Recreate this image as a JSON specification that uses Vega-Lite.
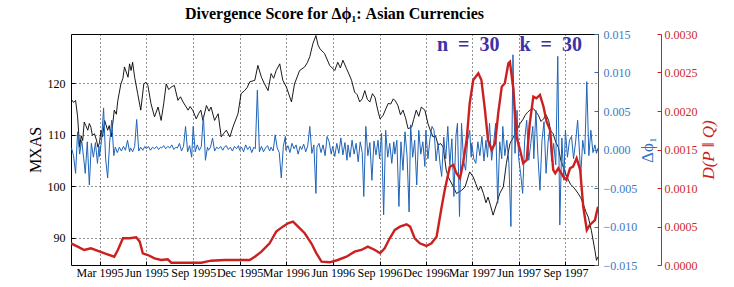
{
"$schema": "https://vega.github.io/schema/vega-lite/v6.json",
"width": 527, "height": 231,
"autosize": {"type": "none"},
"padding": {"left": 71, "top": 34, "right": 136, "bottom": 22},
"background": "#ffffff",
"config": {
  "font": "Liberation Serif",
  "view": {"stroke": "#000", "strokeWidth": 1},
  "axis": {"labelFont": "Liberation Serif", "titleFont": "Liberation Serif", "titleFontWeight": "normal"}
},
"title": {"text": "Divergence Score for Δϕ₁: Asian Currencies", "font": "Liberation Serif", "fontSize": 16, "fontWeight": "bold", "anchor": "middle", "offset": 6, "color": "#000"},
"encoding": {
  "x": {"field": "d", "type": "temporal",
    "scale": {"type": "utc", "domain": [{"year": 1995, "month": 1, "date": 4, "utc": true}, {"year": 1997, "month": 11, "date": 4, "utc": true}]},
    "axis": {"title": null, "format": "%b %Y",
      "values": [
        {"year": 1995, "month": 3, "date": 1, "utc": true}, {"year": 1995, "month": 6, "date": 1, "utc": true},
        {"year": 1995, "month": 9, "date": 1, "utc": true}, {"year": 1995, "month": 12, "date": 1, "utc": true},
        {"year": 1996, "month": 3, "date": 1, "utc": true}, {"year": 1996, "month": 6, "date": 1, "utc": true},
        {"year": 1996, "month": 9, "date": 1, "utc": true}, {"year": 1996, "month": 12, "date": 1, "utc": true},
        {"year": 1997, "month": 3, "date": 1, "utc": true}, {"year": 1997, "month": 6, "date": 1, "utc": true},
        {"year": 1997, "month": 9, "date": 1, "utc": true}],
      "labelOverlap": false, "labelFlush": false, "labelBound": false,
      "grid": true, "gridDash": [1, 3], "gridColor": "#000", "gridOpacity": 0.85,
      "tickSize": -4, "tickColor": "#000", "labelPadding": 6, "domain": false,
      "labelFontSize": 12, "labelColor": "#000"}
  }
},
"layer": [
  {
    "data": {"values": [
      {"d":"1995-01-04","m":117.0},{"d":"1995-01-09","m":116.3},{"d":"1995-01-13","m":116.7},{"d":"1995-01-17","m":113.5},
      {"d":"1995-01-21","m":107.6},{"d":"1995-01-24","m":109.8},{"d":"1995-01-27","m":108.9},{"d":"1995-01-30","m":112.5},
      {"d":"1995-02-02","m":111.8},{"d":"1995-02-06","m":110.9},{"d":"1995-02-09","m":112.2},{"d":"1995-02-12","m":111.5},
      {"d":"1995-02-15","m":109.9},{"d":"1995-02-19","m":110.2},{"d":"1995-02-23","m":109.0},{"d":"1995-02-26","m":107.6},
      {"d":"1995-03-01","m":108.5},{"d":"1995-03-04","m":110.9},{"d":"1995-03-07","m":109.6},{"d":"1995-03-11","m":112.8},
      {"d":"1995-03-17","m":110.9},{"d":"1995-03-20","m":111.8},{"d":"1995-03-24","m":109.6},{"d":"1995-03-30","m":114.8},
      {"d":"1995-04-03","m":114.0},{"d":"1995-04-06","m":116.7},{"d":"1995-04-12","m":119.9},{"d":"1995-04-16","m":121.0},
      {"d":"1995-04-19","m":123.2},{"d":"1995-04-26","m":121.2},{"d":"1995-04-29","m":123.8},{"d":"1995-05-02","m":122.5},
      {"d":"1995-05-05","m":124.1},{"d":"1995-05-09","m":121.2},{"d":"1995-05-15","m":118.0},{"d":"1995-05-21","m":114.8},
      {"d":"1995-05-27","m":119.9},{"d":"1995-05-31","m":120.2},{"d":"1995-06-04","m":119.6},{"d":"1995-06-10","m":116.1},
      {"d":"1995-06-17","m":113.5},{"d":"1995-06-24","m":115.4},{"d":"1995-06-30","m":112.8},{"d":"1995-07-05","m":116.0},
      {"d":"1995-07-10","m":119.9},{"d":"1995-07-15","m":118.8},{"d":"1995-07-20","m":119.3},{"d":"1995-07-26","m":119.6},
      {"d":"1995-08-02","m":116.7},{"d":"1995-08-07","m":117.4},{"d":"1995-08-12","m":116.4},{"d":"1995-08-17","m":115.6},
      {"d":"1995-08-22","m":114.8},{"d":"1995-08-26","m":115.5},{"d":"1995-08-31","m":114.8},{"d":"1995-09-07","m":113.1},
      {"d":"1995-09-12","m":114.2},{"d":"1995-09-16","m":114.8},{"d":"1995-09-20","m":112.8},{"d":"1995-09-27","m":115.7},
      {"d":"1995-10-02","m":114.6},{"d":"1995-10-06","m":115.4},{"d":"1995-10-13","m":112.8},{"d":"1995-10-20","m":114.1},
      {"d":"1995-10-26","m":109.6},{"d":"1995-11-01","m":110.4},{"d":"1995-11-05","m":110.9},{"d":"1995-11-12","m":109.6},
      {"d":"1995-11-18","m":111.5},{"d":"1995-11-28","m":114.1},{"d":"1995-12-04","m":118.0},{"d":"1995-12-11","m":118.6},
      {"d":"1995-12-16","m":119.2},{"d":"1995-12-21","m":120.3},{"d":"1995-12-31","m":120.6},{"d":"1996-01-06","m":123.5},
      {"d":"1996-01-13","m":121.2},{"d":"1996-01-19","m":119.9},{"d":"1996-01-26","m":118.6},{"d":"1996-02-01","m":121.9},
      {"d":"1996-02-06","m":121.0},{"d":"1996-02-11","m":122.5},{"d":"1996-02-18","m":123.8},{"d":"1996-02-24","m":120.6},
      {"d":"1996-03-02","m":119.3},{"d":"1996-03-12","m":116.4},{"d":"1996-03-18","m":119.9},{"d":"1996-03-28","m":122.5},
      {"d":"1996-04-07","m":123.2},{"d":"1996-04-12","m":124.0},{"d":"1996-04-17","m":125.2},{"d":"1996-04-23","m":127.7},
      {"d":"1996-04-29","m":129.3},{"d":"1996-05-03","m":127.5},{"d":"1996-05-07","m":126.7},{"d":"1996-05-16","m":125.8},
      {"d":"1996-05-26","m":123.5},{"d":"1996-06-05","m":122.5},{"d":"1996-06-11","m":124.1},{"d":"1996-06-16","m":123.0},
      {"d":"1996-06-21","m":124.5},{"d":"1996-06-28","m":122.9},{"d":"1996-07-03","m":121.8},{"d":"1996-07-08","m":120.6},
      {"d":"1996-07-14","m":118.3},{"d":"1996-07-19","m":117.8},{"d":"1996-07-24","m":116.4},{"d":"1996-07-29","m":117.0},
      {"d":"1996-08-03","m":118.6},{"d":"1996-08-08","m":116.9},{"d":"1996-08-13","m":116.4},{"d":"1996-08-18","m":118.0},
      {"d":"1996-08-23","m":117.3},{"d":"1996-08-28","m":115.0},{"d":"1996-09-02","m":113.1},{"d":"1996-09-08","m":113.8},
      {"d":"1996-09-13","m":115.0},{"d":"1996-09-18","m":116.1},{"d":"1996-09-23","m":116.0},{"d":"1996-09-28","m":117.0},
      {"d":"1996-10-02","m":116.6},{"d":"1996-10-07","m":115.7},{"d":"1996-10-12","m":113.9},{"d":"1996-10-17","m":114.8},
      {"d":"1996-10-22","m":113.3},{"d":"1996-10-27","m":111.2},{"d":"1996-11-03","m":111.5},{"d":"1996-11-07","m":113.0},
      {"d":"1996-11-12","m":114.8},{"d":"1996-11-17","m":113.6},{"d":"1996-11-22","m":115.4},{"d":"1996-11-29","m":114.8},
      {"d":"1996-12-05","m":112.2},{"d":"1996-12-10","m":110.8},{"d":"1996-12-15","m":109.6},{"d":"1996-12-20","m":109.8},
      {"d":"1996-12-25","m":108.0},{"d":"1996-12-30","m":108.3},{"d":"1997-01-04","m":107.6},{"d":"1997-01-10","m":103.1},
      {"d":"1997-01-14","m":101.8},{"d":"1997-01-17","m":101.2},{"d":"1997-01-24","m":99.9},{"d":"1997-01-30","m":98.6},
      {"d":"1997-02-09","m":99.2},{"d":"1997-02-16","m":99.9},{"d":"1997-02-25","m":102.8},{"d":"1997-03-04","m":101.8},
      {"d":"1997-03-09","m":100.5},{"d":"1997-03-14","m":99.2},{"d":"1997-03-19","m":100.0},{"d":"1997-03-24","m":98.6},
      {"d":"1997-03-29","m":96.8},{"d":"1997-04-02","m":97.9},{"d":"1997-04-07","m":96.2},{"d":"1997-04-12","m":94.4},
      {"d":"1997-04-19","m":96.6},{"d":"1997-04-25","m":98.6},{"d":"1997-05-02","m":99.9},{"d":"1997-05-08","m":104.4},
      {"d":"1997-05-15","m":108.3},{"d":"1997-05-20","m":109.2},{"d":"1997-05-25","m":110.2},{"d":"1997-06-04","m":112.2},
      {"d":"1997-06-09","m":112.9},{"d":"1997-06-14","m":113.8},{"d":"1997-06-18","m":114.3},{"d":"1997-06-23","m":114.8},
      {"d":"1997-06-30","m":115.1},{"d":"1997-07-05","m":114.5},{"d":"1997-07-10","m":113.8},{"d":"1997-07-15","m":112.6},
      {"d":"1997-07-20","m":113.1},{"d":"1997-07-25","m":113.9},{"d":"1997-07-30","m":112.8},{"d":"1997-08-03","m":110.8},
      {"d":"1997-08-08","m":110.2},{"d":"1997-08-13","m":108.6},{"d":"1997-08-18","m":107.6},{"d":"1997-08-23","m":105.0},
      {"d":"1997-08-28","m":103.7},{"d":"1997-09-02","m":102.3},{"d":"1997-09-07","m":101.2},{"d":"1997-09-11","m":100.4},
      {"d":"1997-09-16","m":99.9},{"d":"1997-09-21","m":99.3},{"d":"1997-09-26","m":98.6},{"d":"1997-10-01","m":97.8},
      {"d":"1997-10-06","m":96.6},{"d":"1997-10-11","m":95.1},{"d":"1997-10-16","m":94.0},{"d":"1997-10-22","m":91.4},
      {"d":"1997-10-29","m":87.5},{"d":"1997-11-01","m":85.6},{"d":"1997-11-04","m":86.3}
    ]},
    "mark": {"type": "line", "color": "#000000", "strokeWidth": 0.9, "clip": true},
    "encoding": {
      "y": {"field": "m", "type": "quantitative",
        "scale": {"domain": [84.7, 129.6], "nice": false, "zero": false},
        "axis": {"orient": "left", "title": "MXAS", "values": [90, 100, 110, 120],
          "grid": true, "gridDash": [1, 3], "gridColor": "#000", "gridOpacity": 0.85,
          "tickSize": -4, "tickColor": "#000", "labelPadding": 10, "domain": false,
          "labelFontSize": 12, "labelColor": "#000", "titleFontSize": 16, "titleColor": "#000", "titlePadding": 4}}
    }
  },
  {
    "data": {"values": [
      {"d":"1995-01-05","b":0.0002},{"d":"1995-01-09","b":-0.0008},{"d":"1995-01-13","b":-0.0031},{"d":"1995-01-17","b":0.0023},
      {"d":"1995-01-21","b":-0.0006},{"d":"1995-01-25","b":0.0012},{"d":"1995-01-29","b":-0.0012},{"d":"1995-02-01","b":-0.0031},
      {"d":"1995-02-05","b":0.0010},{"d":"1995-02-09","b":-0.0046},{"d":"1995-02-13","b":0.0008},{"d":"1995-02-17","b":-0.0010},
      {"d":"1995-02-21","b":0.0009},{"d":"1995-02-25","b":-0.0018},{"d":"1995-02-28","b":0.0004},{"d":"1995-03-01","b":-0.0009},
      {"d":"1995-03-05","b":0.0012},{"d":"1995-03-09","b":0.0054},{"d":"1995-03-13","b":-0.0012},{"d":"1995-03-17","b":-0.0037},
      {"d":"1995-03-21","b":0.0010},{"d":"1995-03-25","b":0.0038},{"d":"1995-03-29","b":-0.0008},{"d":"1995-04-01","b":0.0003},
      {"d":"1995-04-05","b":-0.0004},{"d":"1995-04-09","b":0.0003},{"d":"1995-04-13","b":-0.0002},{"d":"1995-04-17","b":0.0004},
      {"d":"1995-04-21","b":-0.0001},{"d":"1995-04-25","b":0.0012},{"d":"1995-04-29","b":-0.0003},{"d":"1995-05-01","b":0.0002},
      {"d":"1995-05-05","b":-0.0003},{"d":"1995-05-09","b":0.0004},{"d":"1995-05-13","b":0.0039},{"d":"1995-05-17","b":-0.0002},
      {"d":"1995-05-21","b":0.0003},{"d":"1995-05-25","b":-0.0001},{"d":"1995-05-29","b":0.0004},{"d":"1995-06-01","b":0.0001},
      {"d":"1995-06-05","b":0.0004},{"d":"1995-06-09","b":-0.0001},{"d":"1995-06-13","b":0.0003},{"d":"1995-06-17","b":0.0001},
      {"d":"1995-06-21","b":0.0004},{"d":"1995-06-25","b":0.0000},{"d":"1995-06-29","b":0.0003},{"d":"1995-07-01","b":0.0002},
      {"d":"1995-07-05","b":0.0005},{"d":"1995-07-09","b":0.0001},{"d":"1995-07-13","b":0.0004},{"d":"1995-07-17","b":0.0002},
      {"d":"1995-07-21","b":0.0006},{"d":"1995-07-25","b":0.0000},{"d":"1995-07-29","b":0.0003},{"d":"1995-08-01","b":0.0002},
      {"d":"1995-08-05","b":0.0008},{"d":"1995-08-09","b":-0.0002},{"d":"1995-08-13","b":0.0004},{"d":"1995-08-17","b":0.0030},
      {"d":"1995-08-21","b":-0.0003},{"d":"1995-08-25","b":0.0005},{"d":"1995-08-29","b":-0.0010},{"d":"1995-09-01","b":0.0030},
      {"d":"1995-09-05","b":-0.0003},{"d":"1995-09-09","b":0.0006},{"d":"1995-09-13","b":-0.0001},{"d":"1995-09-17","b":0.0004},
      {"d":"1995-09-21","b":0.0044},{"d":"1995-09-25","b":-0.0014},{"d":"1995-09-29","b":0.0003},{"d":"1995-10-01","b":-0.0001},
      {"d":"1995-10-05","b":0.0003},{"d":"1995-10-09","b":0.0015},{"d":"1995-10-13","b":-0.0002},{"d":"1995-10-17","b":0.0003},
      {"d":"1995-10-21","b":0.0001},{"d":"1995-10-25","b":0.0004},{"d":"1995-10-29","b":-0.0001},{"d":"1995-11-01","b":0.0003},
      {"d":"1995-11-05","b":0.0005},{"d":"1995-11-09","b":0.0000},{"d":"1995-11-13","b":0.0003},{"d":"1995-11-17","b":-0.0002},
      {"d":"1995-11-21","b":0.0004},{"d":"1995-11-25","b":0.0001},{"d":"1995-11-29","b":0.0005},{"d":"1995-12-01","b":-0.0001},
      {"d":"1995-12-05","b":0.0003},{"d":"1995-12-09","b":-0.0003},{"d":"1995-12-13","b":0.0006},{"d":"1995-12-17","b":0.0000},
      {"d":"1995-12-21","b":0.0004},{"d":"1995-12-25","b":-0.0004},{"d":"1995-12-29","b":0.0003},{"d":"1996-01-01","b":0.0001},
      {"d":"1996-01-05","b":0.0077},{"d":"1996-01-09","b":-0.0003},{"d":"1996-01-13","b":0.0004},{"d":"1996-01-17","b":-0.0003},
      {"d":"1996-01-21","b":0.0002},{"d":"1996-01-25","b":0.0005},{"d":"1996-01-29","b":-0.0002},{"d":"1996-02-01","b":0.0003},
      {"d":"1996-02-05","b":-0.0002},{"d":"1996-02-09","b":0.0019},{"d":"1996-02-13","b":0.0002},{"d":"1996-02-17","b":-0.0004},
      {"d":"1996-02-21","b":-0.0037},{"d":"1996-02-25","b":0.0004},{"d":"1996-02-29","b":0.0017},{"d":"1996-03-01","b":-0.0001},
      {"d":"1996-03-05","b":0.0005},{"d":"1996-03-09","b":-0.0004},{"d":"1996-03-13","b":0.0008},{"d":"1996-03-17","b":0.0001},
      {"d":"1996-03-21","b":0.0006},{"d":"1996-03-25","b":-0.0006},{"d":"1996-03-29","b":0.0004},{"d":"1996-04-01","b":0.0000},
      {"d":"1996-04-05","b":0.0007},{"d":"1996-04-09","b":-0.0003},{"d":"1996-04-13","b":0.0005},{"d":"1996-04-17","b":0.0030},
      {"d":"1996-04-21","b":-0.0005},{"d":"1996-04-25","b":0.0006},{"d":"1996-04-29","b":-0.0057},{"d":"1996-05-01","b":0.0003},
      {"d":"1996-05-05","b":0.0008},{"d":"1996-05-09","b":-0.0004},{"d":"1996-05-13","b":0.0006},{"d":"1996-05-17","b":-0.0008},
      {"d":"1996-05-21","b":0.0017},{"d":"1996-05-25","b":0.0010},{"d":"1996-05-29","b":-0.0006},{"d":"1996-06-01","b":0.0004},
      {"d":"1996-06-05","b":-0.0009},{"d":"1996-06-09","b":0.0008},{"d":"1996-06-13","b":-0.0005},{"d":"1996-06-17","b":0.0015},
      {"d":"1996-06-21","b":-0.0007},{"d":"1996-06-25","b":0.0009},{"d":"1996-06-29","b":-0.0014},{"d":"1996-07-01","b":0.0006},
      {"d":"1996-07-05","b":-0.0010},{"d":"1996-07-09","b":0.0012},{"d":"1996-07-13","b":-0.0006},{"d":"1996-07-17","b":0.0008},
      {"d":"1996-07-21","b":-0.0016},{"d":"1996-07-25","b":0.0010},{"d":"1996-07-29","b":-0.0004},{"d":"1996-08-01","b":-0.0061},
      {"d":"1996-08-05","b":0.0030},{"d":"1996-08-09","b":-0.0008},{"d":"1996-08-13","b":0.0009},{"d":"1996-08-17","b":-0.0040},
      {"d":"1996-08-21","b":0.0011},{"d":"1996-08-25","b":-0.0007},{"d":"1996-08-29","b":0.0012},{"d":"1996-09-01","b":-0.0012},
      {"d":"1996-09-05","b":0.0021},{"d":"1996-09-09","b":-0.0085},{"d":"1996-09-13","b":0.0025},{"d":"1996-09-17","b":-0.0010},
      {"d":"1996-09-21","b":0.0008},{"d":"1996-09-25","b":-0.0018},{"d":"1996-09-29","b":0.0010},{"d":"1996-10-01","b":-0.0006},
      {"d":"1996-10-05","b":0.0012},{"d":"1996-10-09","b":-0.0074},{"d":"1996-10-13","b":0.0010},{"d":"1996-10-17","b":-0.0027},
      {"d":"1996-10-21","b":0.0023},{"d":"1996-10-25","b":-0.0008},{"d":"1996-10-29","b":-0.0081},{"d":"1996-11-01","b":0.0032},
      {"d":"1996-11-05","b":-0.0010},{"d":"1996-11-09","b":0.0012},{"d":"1996-11-13","b":-0.0046},{"d":"1996-11-17","b":0.0025},
      {"d":"1996-11-21","b":-0.0006},{"d":"1996-11-25","b":0.0010},{"d":"1996-11-29","b":-0.0022},{"d":"1996-12-01","b":0.0025},
      {"d":"1996-12-05","b":-0.0012},{"d":"1996-12-09","b":0.0014},{"d":"1996-12-13","b":0.0030},{"d":"1996-12-17","b":0.0025},
      {"d":"1996-12-21","b":-0.0015},{"d":"1996-12-25","b":0.0008},{"d":"1996-12-29","b":-0.0020},{"d":"1997-01-01","b":-0.0035},
      {"d":"1997-01-05","b":0.0016},{"d":"1997-01-09","b":-0.0012},{"d":"1997-01-13","b":0.0030},{"d":"1997-01-17","b":-0.0020},
      {"d":"1997-01-21","b":0.0014},{"d":"1997-01-25","b":-0.0061},{"d":"1997-01-29","b":0.0018},{"d":"1997-02-01","b":0.0034},
      {"d":"1997-02-05","b":-0.0087},{"d":"1997-02-09","b":0.0034},{"d":"1997-02-13","b":-0.0015},{"d":"1997-02-17","b":-0.0027},
      {"d":"1997-02-21","b":0.0012},{"d":"1997-02-25","b":0.0025},{"d":"1997-02-28","b":-0.0010},{"d":"1997-03-01","b":0.0008},
      {"d":"1997-03-05","b":-0.0012},{"d":"1997-03-09","b":-0.0018},{"d":"1997-03-13","b":0.0010},{"d":"1997-03-17","b":-0.0008},
      {"d":"1997-03-21","b":0.0017},{"d":"1997-03-25","b":-0.0015},{"d":"1997-03-29","b":0.0012},{"d":"1997-04-01","b":-0.0010},
      {"d":"1997-04-05","b":0.0034},{"d":"1997-04-09","b":-0.0014},{"d":"1997-04-13","b":0.0008},{"d":"1997-04-17","b":0.0034},
      {"d":"1997-04-21","b":-0.0070},{"d":"1997-04-25","b":0.0010},{"d":"1997-04-29","b":-0.0012},{"d":"1997-05-01","b":0.0030},
      {"d":"1997-05-05","b":-0.0008},{"d":"1997-05-09","b":0.0012},{"d":"1997-05-13","b":-0.0018},{"d":"1997-05-17","b":-0.0100},
      {"d":"1997-05-21","b":0.0123},{"d":"1997-05-25","b":-0.0005},{"d":"1997-05-29","b":0.0051},{"d":"1997-06-01","b":-0.0010},
      {"d":"1997-06-05","b":-0.0031},{"d":"1997-06-09","b":-0.0057},{"d":"1997-06-13","b":0.0012},{"d":"1997-06-17","b":0.0038},
      {"d":"1997-06-21","b":-0.0014},{"d":"1997-06-25","b":0.0008},{"d":"1997-06-29","b":0.0030},{"d":"1997-07-01","b":-0.0012},
      {"d":"1997-07-05","b":0.0051},{"d":"1997-07-09","b":-0.0008},{"d":"1997-07-13","b":-0.0053},{"d":"1997-07-17","b":0.0012},
      {"d":"1997-07-21","b":0.0036},{"d":"1997-07-25","b":-0.0031},{"d":"1997-07-29","b":0.0010},{"d":"1997-08-01","b":0.0025},
      {"d":"1997-08-05","b":-0.0015},{"d":"1997-08-09","b":0.0008},{"d":"1997-08-13","b":-0.0020},{"d":"1997-08-17","b":0.0121},
      {"d":"1997-08-21","b":-0.0098},{"d":"1997-08-25","b":0.0015},{"d":"1997-08-29","b":-0.0040},{"d":"1997-09-01","b":0.0025},
      {"d":"1997-09-05","b":-0.0010},{"d":"1997-09-09","b":0.0012},{"d":"1997-09-13","b":0.0017},{"d":"1997-09-17","b":-0.0012},
      {"d":"1997-09-21","b":0.0010},{"d":"1997-09-25","b":0.0038},{"d":"1997-09-29","b":-0.0008},{"d":"1997-10-01","b":-0.0035},
      {"d":"1997-10-05","b":0.0012},{"d":"1997-10-09","b":-0.0006},{"d":"1997-10-13","b":0.0088},{"d":"1997-10-17","b":-0.0008},
      {"d":"1997-10-21","b":0.0025},{"d":"1997-10-25","b":-0.0004},{"d":"1997-10-29","b":0.0006},{"d":"1997-11-01","b":-0.0005},
      {"d":"1997-11-04","b":0.0002}
    ]},
    "mark": {"type": "line", "color": "#1f64b8", "strokeWidth": 1, "clip": true},
    "encoding": {
      "y": {"field": "b", "type": "quantitative",
        "scale": {"domain": [-0.015, 0.015], "nice": false, "zero": false},
        "axis": {"orient": "right", "title": "Δϕ₁", "values": [-0.015, -0.01, -0.005, 0, 0.005, 0.01, 0.015], "format": ".3f",
          "grid": false, "tickSize": -4, "tickColor": "#2f6fbf", "labelPadding": 9,
          "domain": true, "domainColor": "#555555", "labelFontSize": 12, "labelColor": "#3a78c4",
          "titleFontSize": 17, "titleColor": "#2f6fbf", "titleAngle": 270, "titleBaseline": "top", "titlePadding": 3}}
    }
  },
  {
    "data": {"values": [
      {"d":"1995-01-04","r":0.000282},{"d":"1995-01-17","r":0.000238},{"d":"1995-01-30","r":0.000195},{"d":"1995-02-12","r":0.000217},
      {"d":"1995-02-26","r":0.000182},{"d":"1995-03-11","r":0.000152},{"d":"1995-03-30","r":0.000108},{"d":"1995-04-06","r":0.000195},
      {"d":"1995-04-16","r":0.000347},{"d":"1995-04-29","r":0.000347},{"d":"1995-05-12","r":0.000360},{"d":"1995-05-19","r":0.000303},
      {"d":"1995-05-25","r":0.000152},{"d":"1995-06-04","r":0.000130},{"d":"1995-06-17","r":0.000087},{"d":"1995-06-30","r":0.000065},
      {"d":"1995-07-13","r":0.000074},{"d":"1995-07-20","r":0.000030},{"d":"1995-08-15","r":0.000030},{"d":"1995-09-17","r":0.000030},
      {"d":"1995-10-06","r":0.000056},{"d":"1995-11-02","r":0.000065},{"d":"1995-11-28","r":0.000065},{"d":"1995-12-21","r":0.000065},
      {"d":"1995-12-31","r":0.000108},{"d":"1996-01-13","r":0.000173},{"d":"1996-01-29","r":0.000282},{"d":"1996-02-11","r":0.000433},
      {"d":"1996-02-24","r":0.000498},{"d":"1996-03-05","r":0.000541},{"d":"1996-03-15","r":0.000563},{"d":"1996-03-25","r":0.000498},
      {"d":"1996-04-07","r":0.000412},{"d":"1996-04-20","r":0.000282},{"d":"1996-04-30","r":0.000152},{"d":"1996-05-10","r":0.000043},
      {"d":"1996-05-26","r":0.000035},{"d":"1996-06-11","r":0.000065},{"d":"1996-06-28","r":0.000108},{"d":"1996-07-14","r":0.000173},
      {"d":"1996-07-27","r":0.000195},{"d":"1996-08-09","r":0.000238},{"d":"1996-08-23","r":0.000195},{"d":"1996-09-02","r":0.000152},
      {"d":"1996-09-11","r":0.000217},{"d":"1996-09-21","r":0.000347},{"d":"1996-10-01","r":0.000455},{"d":"1996-10-11","r":0.000498},
      {"d":"1996-10-24","r":0.000528},{"d":"1996-10-31","r":0.000498},{"d":"1996-11-09","r":0.000347},{"d":"1996-11-19","r":0.000282},
      {"d":"1996-12-02","r":0.000247},{"d":"1996-12-12","r":0.000282},{"d":"1996-12-22","r":0.000368},{"d":"1997-01-01","r":0.000757},
      {"d":"1997-01-07","r":0.000974},{"d":"1997-01-17","r":0.001277},{"d":"1997-01-24","r":0.001299},{"d":"1997-01-30","r":0.001191},
      {"d":"1997-02-06","r":0.001126},{"d":"1997-02-12","r":0.001321},{"d":"1997-02-19","r":0.001623},{"d":"1997-02-25","r":0.002100},
      {"d":"1997-03-04","r":0.002403},{"d":"1997-03-14","r":0.002490},{"d":"1997-03-20","r":0.002403},{"d":"1997-03-27","r":0.002013},
      {"d":"1997-04-02","r":0.001623},{"d":"1997-04-09","r":0.001494},{"d":"1997-04-16","r":0.001581},{"d":"1997-04-22","r":0.001970},
      {"d":"1997-04-29","r":0.002316},{"d":"1997-05-05","r":0.002360},{"d":"1997-05-12","r":0.002620},{"d":"1997-05-15","r":0.002640},
      {"d":"1997-05-22","r":0.002273},{"d":"1997-05-28","r":0.001666},{"d":"1997-06-04","r":0.001494},{"d":"1997-06-10","r":0.001321},
      {"d":"1997-06-17","r":0.001364},{"d":"1997-06-23","r":0.001840},{"d":"1997-06-30","r":0.002186},{"d":"1997-07-06","r":0.002165},
      {"d":"1997-07-13","r":0.002208},{"d":"1997-07-20","r":0.002056},{"d":"1997-07-26","r":0.001861},{"d":"1997-08-02","r":0.001753},
      {"d":"1997-08-08","r":0.001234},{"d":"1997-08-12","r":0.001191},{"d":"1997-08-18","r":0.001256},{"d":"1997-08-28","r":0.001147},
      {"d":"1997-09-03","r":0.001104},{"d":"1997-09-10","r":0.001256},{"d":"1997-09-16","r":0.001277},{"d":"1997-09-23","r":0.001386},
      {"d":"1997-09-30","r":0.001234},{"d":"1997-10-06","r":0.000757},{"d":"1997-10-13","r":0.000455},{"d":"1997-10-19","r":0.000520},
      {"d":"1997-10-29","r":0.000584},{"d":"1997-11-04","r":0.000757}
    ]},
    "mark": {"type": "line", "color": "#cc2020", "strokeWidth": 2.4, "clip": true},
    "encoding": {
      "y": {"field": "r", "type": "quantitative",
        "scale": {"domain": [0, 0.003], "nice": false, "zero": false},
        "axis": {"orient": "right", "offset": 63, "title": "D(P ‖ Q)", "values": [0, 0.0005, 0.001, 0.0015, 0.002, 0.0025, 0.003], "format": ".4f",
          "grid": false, "tickSize": -4, "tickColor": "#cc2020", "labelPadding": 7,
          "domain": true, "domainColor": "#555555", "labelFontSize": 12, "labelColor": "#cc2b2b",
          "titleFontSize": 17, "titleColor": "#cc2020", "titleFontStyle": "italic", "titleAngle": 270, "titleBaseline": "top", "titlePadding": 3}}
    }
  },
  {
    "data": {"values": [{"d": "1997-05-14", "m": 127.4, "t": "n\u00a0\u00a0=\u00a0\u00a030\u00a0\u00a0\u00a0\u00a0k\u00a0\u00a0=\u00a0\u00a030"}]},
    "mark": {"type": "text", "font": "Liberation Serif", "fontWeight": "bold", "fontSize": 20, "color": "#4030a6", "align": "center", "baseline": "middle"},
    "encoding": {
      "y": {"field": "m", "type": "quantitative", "scale": {"domain": [84.7, 129.6], "nice": false, "zero": false}, "axis": null},
      "text": {"field": "t"}
    }
  }
],
"resolve": {"scale": {"y": "independent"}, "axis": {"y": "independent"}}
}
